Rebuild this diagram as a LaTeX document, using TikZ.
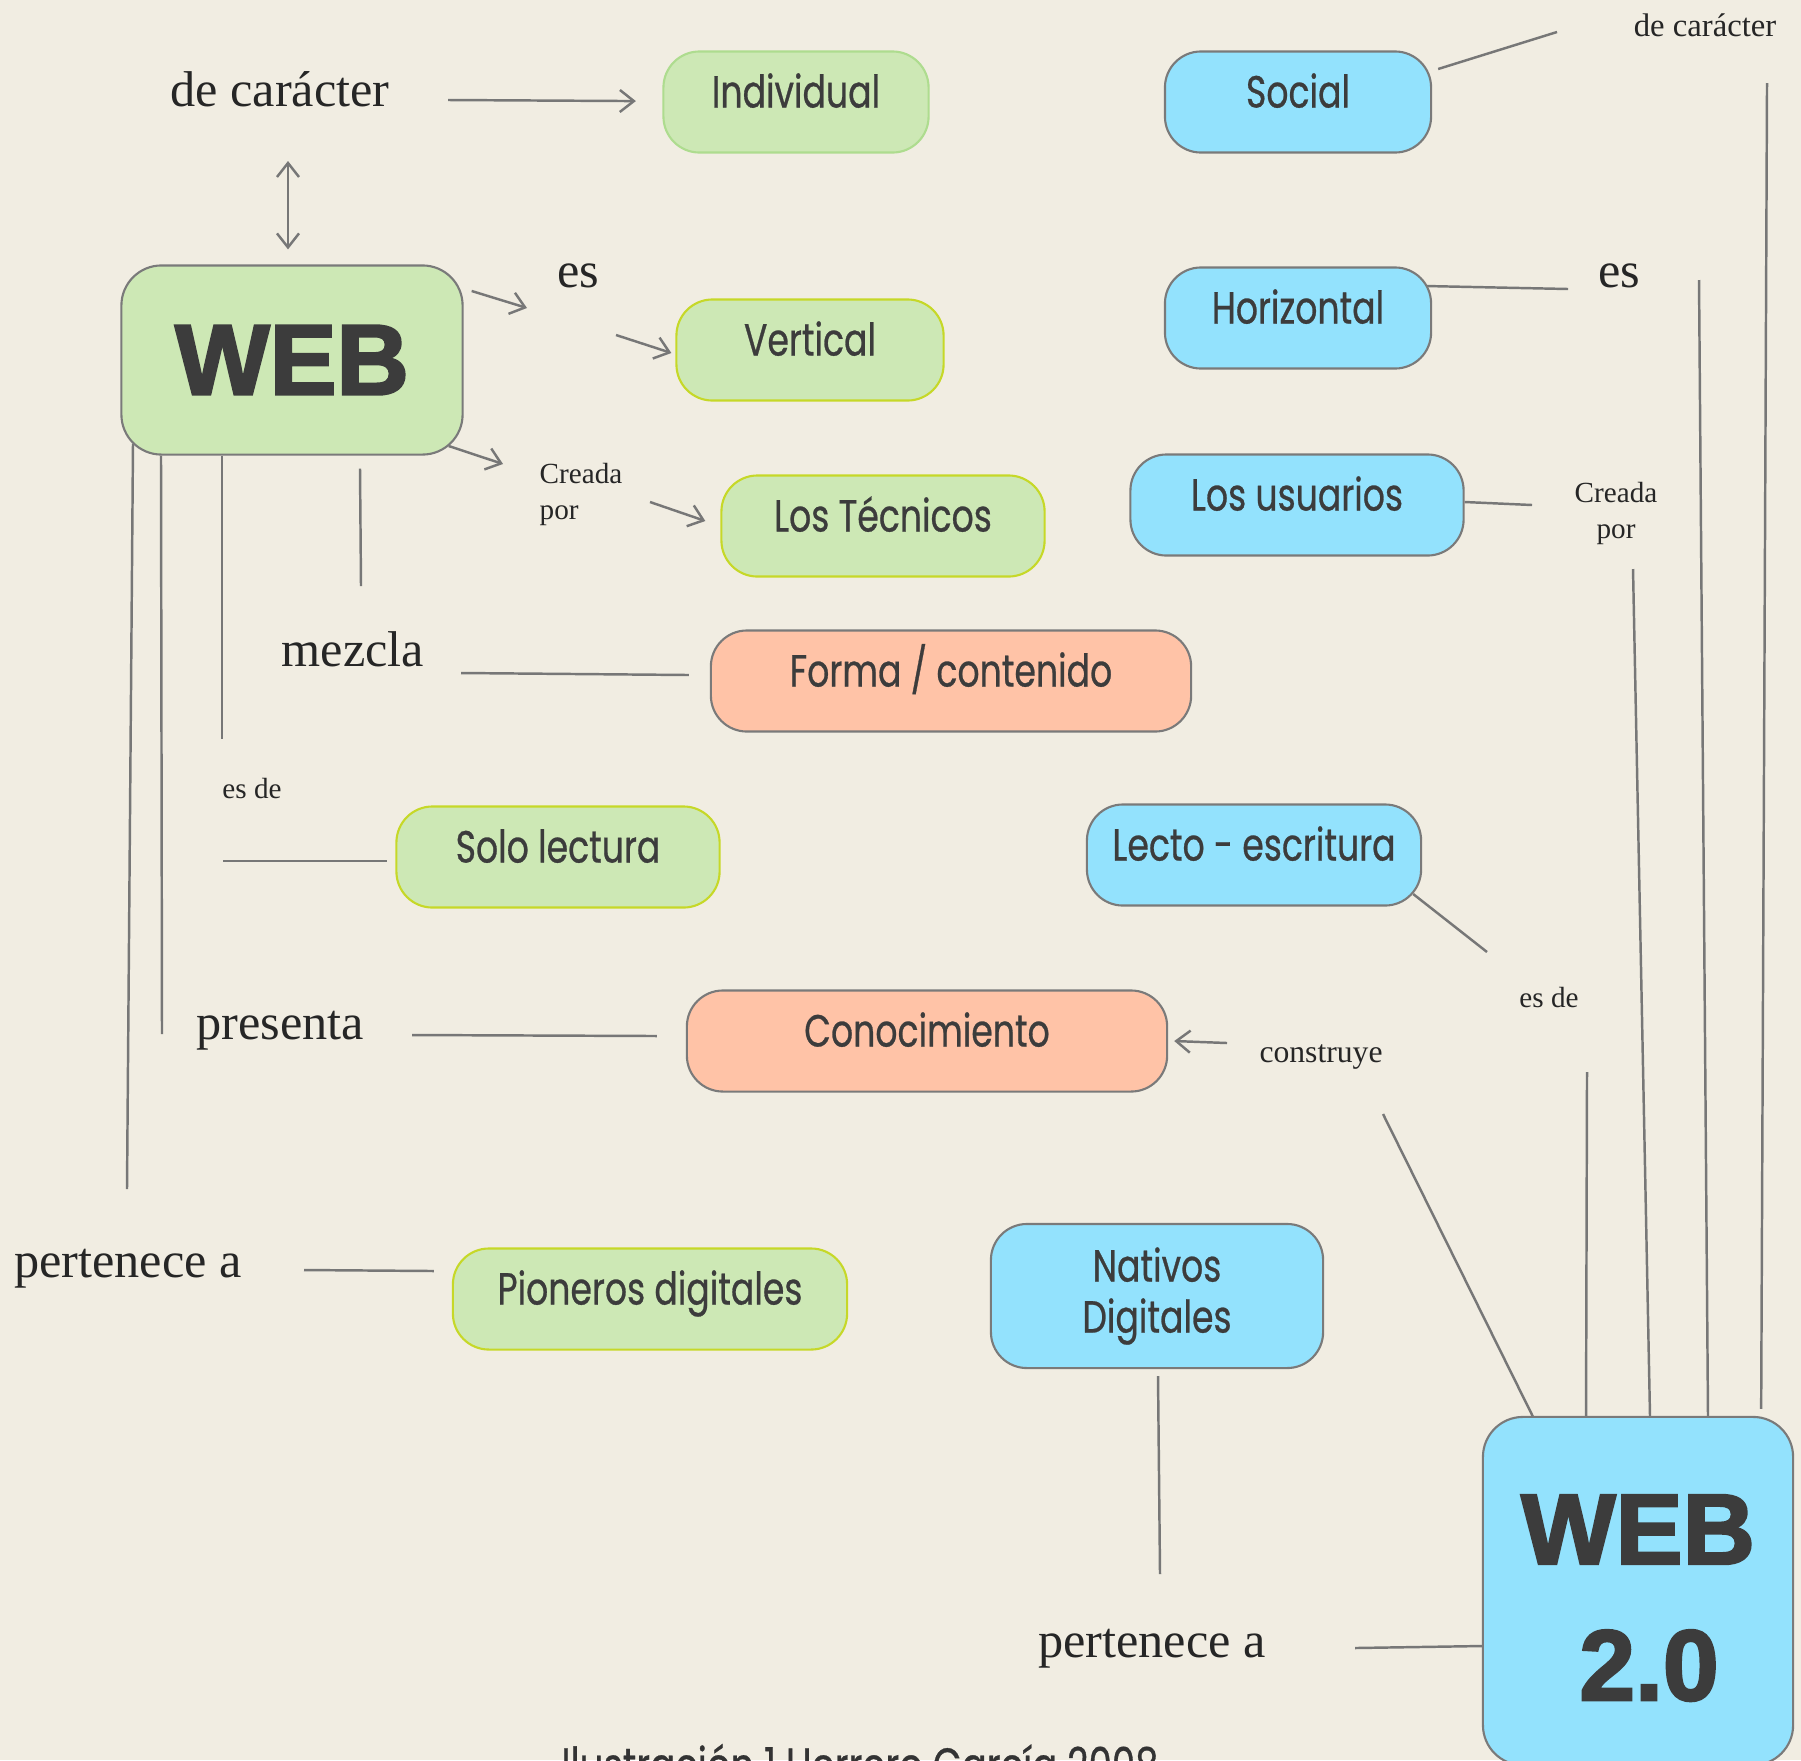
\documentclass[tikz,border=0pt]{standalone}
\usepackage{fontspec}
\setmainfont{Liberation Serif}
\newfontfamily\boxfont{Poppins}[FakeStretch=0.77, FakeBold=0.6]
\newfontfamily\webfont{Liberation Sans}[BoldFeatures={FakeBold=2.5}]
\usepackage{tikz}
\usetikzlibrary{arrows.meta, positioning, backgrounds}

\definecolor{paper}{HTML}{F1EDE2}
\definecolor{leaf}{HTML}{CDE8B5}
\definecolor{leafline}{HTML}{AEDC8F}
\definecolor{limeline}{HTML}{C6D828}
\definecolor{sky}{HTML}{93E2FD}
\definecolor{peach}{HTML}{FFC3A7}
\definecolor{rim}{HTML}{7A7A7A}
\definecolor{ink}{HTML}{3C3C3C}
\definecolor{wire}{HTML}{777777}

\newcommand{\sunk}[1]{\raisebox{-0.07cm}[\height][\depth]{#1}}

\tikzset{
	box/.style={rectangle, rounded corners=0.36cm, line width=0.6pt, draw=rim, text=ink, inner sep=0pt},
	onebox/.style={box, font=\boxfont\fontsize{12.8}{15}\selectfont, minimum height=1.01cm, text height=0.56cm, text depth=0.45cm},
	bigbox/.style={box, rounded corners=0.4cm, font=\webfont\bfseries\fontsize{28.5}{38.7}\selectfont},
	lbl/.style={text=black!85, inner sep=0pt, anchor=base, font=\fontsize{14.3}{17}\selectfont},
	note/.style={text=black!85, inner sep=0pt, anchor=base, font=\fontsize{8.3}{10}\selectfont},
	link/.style={draw=wire, line width=0.7pt},
	arr/.style={link, -{Straight Barb[length=1.4mm, width=2.2mm]}},
	dbl/.style={link, {Straight Barb[length=1.4mm, width=2.2mm]}-{Straight Barb[length=1.4mm, width=2.2mm]}}
}

\begin{document}
\begin{tikzpicture}[x=0.01cm, y=-0.01cm]
	\useasboundingbox (0,0) rectangle (1801,1760);

	\node[bigbox, fill=leaf, minimum width=3.41cm, minimum height=1.89cm] (W) at (292,360) {WEB};
	\node[bigbox, fill=sky, minimum width=3.1cm, minimum height=3.48cm, align=center] (W2) at (1638,1591) {\sunk{WEB}\\\sunk{\hspace*{0.22cm}2.0}};

	\node[onebox, fill=leaf, draw=leafline, minimum width=2.65cm] (Ind) at (796,102) {Individual};
	\node[onebox, fill=leaf, draw=limeline, minimum width=2.67cm] (Ver) at (810,350) {Vertical};
	\node[onebox, fill=leaf, draw=limeline, minimum width=3.23cm] (Tec) at (883,526) {Los Técnicos};
	\node[onebox, fill=leaf, draw=limeline, minimum width=3.23cm] (Sol) at (558,857) {Solo lectura};
	\node[onebox, fill=leaf, draw=limeline, minimum width=3.94cm] (Pio) at (650,1299) {Pioneros digitales};

	\node[onebox, fill=peach, minimum width=4.8cm] (For) at (951,681) {Forma / contenido};
	\node[onebox, fill=peach, minimum width=4.8cm] (Con) at (927,1041) {Conocimiento};

	\node[onebox, fill=sky, minimum width=2.66cm] (Soc) at (1298,102) {Social};
	\node[onebox, fill=sky, minimum width=2.66cm] (Hor) at (1298,318) {Horizontal};
	\node[onebox, fill=sky, minimum width=3.33cm] (Usu) at (1297,505) {Los usuarios};
	\node[onebox, fill=sky, minimum width=3.34cm] (Lec) at (1254,855) {Lecto - escritura};
	\node[box, fill=sky, minimum width=3.32cm, minimum height=1.44cm, align=center, font=\boxfont\fontsize{12.8}{14.5}\selectfont] (Nat) at (1157,1296) {Nativos\\Digitales};

	\node[lbl] (dcA) at (280,106) {de carácter};
	\node[lbl] (esA) at (578,287) {es};
	\node[note, align=left, anchor=base west] (crA) at (539,519) {Creada\\por};
	\node[lbl] (mez) at (353,666) {mezcla};
	\node[note] (esdA) at (252,798) {es de};
	\node[lbl] (pre) at (280,1039) {presenta};
	\node[lbl] (perA) at (128,1277) {pertenece a};

	\node[note, font=\fontsize{9.3}{11}\selectfont] (dcB) at (1705,36) {de carácter};
	\node[lbl] (esB) at (1619,287) {es};
	\node[note, align=center] (crB) at (1616,538) {Creada\\por};
	\node[note] (esdB) at (1549,1007) {es de};
	\node[note, font=\fontsize{9}{11}\selectfont] (cons) at (1321,1062) {construye};
	\node[lbl] (perB) at (1152,1657) {pertenece a};

	\node[text=black!80, inner sep=0pt, anchor=base, font=\boxfont\fontsize{13.7}{16}\selectfont] (cap) at (860,1782) {Ilustración 1 Herrero García 2008};

	\begin{scope}[on background layer]
		\fill[paper] (0,0) rectangle (1801,1760);

		\coordinate (dcA-r) at (448,100);
		\coordinate (dcA-b) at (288,161);
		\coordinate (esA-W) at (527,308);
		\coordinate (esA-V) at (616,335);
		\coordinate (crA-W) at (503,464);
		\coordinate (crA-T) at (650,502);
		\coordinate (mez-t) at (361,586);
		\coordinate (mez-r) at (461,673);
		\coordinate (esdA-t) at (222,739);
		\coordinate (esdA-r) at (223,861);
		\coordinate (pre-t) at (162,1034);
		\coordinate (pre-r) at (412,1035);
		\coordinate (perA-t) at (127,1189);
		\coordinate (perA-r) at (304,1270);

		\coordinate (dcB-l) at (1557,32);
		\coordinate (dcB-b) at (1767,83);
		\coordinate (esB-l) at (1568,289);
		\coordinate (esB-b) at (1699,280);
		\coordinate (crB-l) at (1532,505);
		\coordinate (crB-b) at (1633,569);
		\coordinate (esdB-l) at (1487,952);
		\coordinate (esdB-b) at (1587,1072);
		\coordinate (cons-l) at (1227,1043);
		\coordinate (cons-b) at (1383,1114);
		\coordinate (perB-t) at (1160,1574);
		\coordinate (perB-r) at (1355,1648);

		\draw[arr] (dcA-r) -- (Ind) [shorten >=0.265cm];
		\draw[dbl] (dcA-b) -- ([shift={(-4,-15)}]W.north);
		\draw[arr] ([shift={(8,-69)}]W.east) -- (esA-W);
		\draw[arr] (esA-V) -- ([shift={(-4,3)}]Ver.west);
		\draw[arr] ([shift={(-15,86)}]W.east) -- (crA-W);
		\draw[arr] (crA-T) -- ([shift={(-15,-5)}]Tec.west);

		\draw[link] ([shift={(68,13)}]W.south) -- (mez-t);
		\draw[link] (mez-r) -- ([shift={(-21,-6)}]For.west);
		\draw[link] ([shift={(-70,0)}]W.south) -- (esdA-t);
		\draw[link] (esdA-r) -- ([shift={(-8,4)}]Sol.west);
		\draw[link] ([shift={(-131,0)}]W.south) -- (pre-t);
		\draw[link] (pre-r) -- ([shift={(-29,-5)}]Con.west);
		\draw[link] ([shift={(-159,-12)}]W.south) -- (perA-t);
		\draw[link] (perA-r) -- ([shift={(-18,-28)}]Pio.west);

		\draw[link] ([shift={(6,-33)}]Soc.east) -- (dcB-l);
		\draw[link] (dcB-b) -- ([shift={(-33,-7)}]W2.north east);
		\draw[link] ([shift={(-7,-32)}]Hor.east) -- (esB-l);
		\draw[link] (esB-b) -- ([shift={(70,3)}]W2.north);
		\draw[link] ([shift={(0,-3)}]Usu.east) -- (crB-l);
		\draw[link] (crB-b) -- ([shift={(12,1)}]W2.north);
		\draw[link] ([shift={(-9,39)}]Lec.east) -- (esdB-l);
		\draw[link] (esdB-b) -- ([shift={(-52,5)}]W2.north);
		\draw[arr] (cons-l) -- ([shift={(6,0)}]Con.east);
		\draw[link] (cons-b) -- ([shift={(-103,5)}]W2.north);
		\draw[link] ([shift={(1,7)}]Nat.south) -- (perB-t);
		\draw[link] (perB-r) -- ([shift={(0,55)}]W2.west);
	\end{scope}
\end{tikzpicture}
\end{document}
